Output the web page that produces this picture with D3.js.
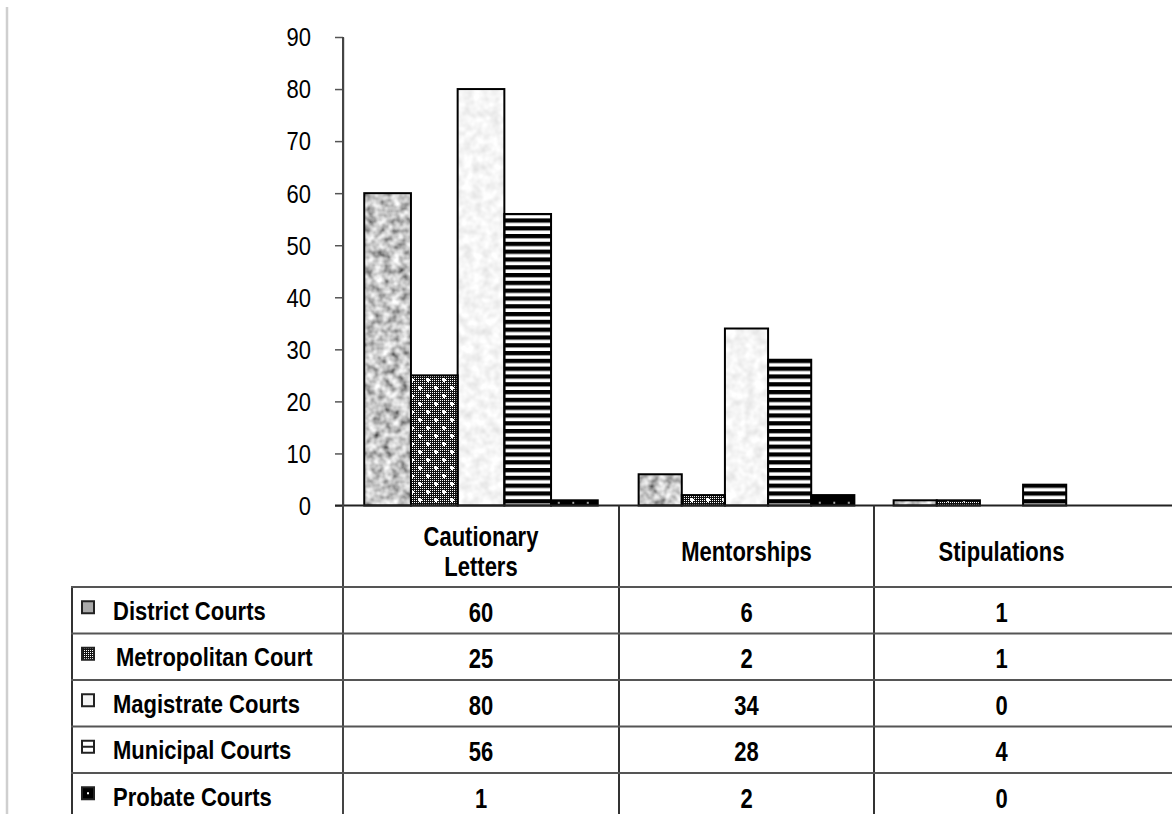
<!DOCTYPE html>
<html>
<head>
<meta charset="utf-8">
<script src="https://cdn.jsdelivr.net/npm/d3@7"></script>
<style>
  html, body { margin: 0; padding: 0; background: #fff; }
  svg { display: block; }
  text { font-family: "Liberation Sans", Arial, sans-serif; fill: #000; }
</style>
</head>
<body>
<svg id="chart" width="1172" height="814"></svg>
<script>
// Disciplinary outcomes by court type
const categories = ["Cautionary Letters", "Mentorships", "Stipulations"];
const categoryLines = [["Cautionary", "Letters"], ["Mentorships"], ["Stipulations"]];
const series = ["District Courts", "Metropolitan Court", "Magistrate Courts", "Municipal Courts", "Probate Courts"];
const districtCourts = [60, 6, 1];
const metropolitanCourt = [25, 2, 1];
const magistrateCourts = [80, 34, 0];
const municipalCourts = [56, 28, 4];
const probateCourts = [1, 2, 0];
const seriesValues = [districtCourts, metropolitanCourt, magistrateCourts, municipalCourts, probateCourts];
const yTicks = [0, 10, 20, 30, 40, 50, 60, 70, 80, 90];

const svg = d3.select("#chart");
const defs = svg.append("defs");

// ---- fills ----
function mottle(id, lo, hi, freq, seed, gain) {
  const f = defs.append("filter").attr("id", id)
    .attr("x", "-5%").attr("y", "-5%").attr("width", "110%").attr("height", "110%");
  f.append("feTurbulence").attr("type", "fractalNoise").attr("baseFrequency", freq)
    .attr("numOctaves", 2).attr("seed", seed).attr("result", "noise");
  const mid = (lo + hi) / 2, k = (hi - lo) * gain, b = mid - k * 0.5;
  f.append("feColorMatrix").attr("in", "noise").attr("type", "matrix")
    .attr("values", `${k} 0 0 0 ${b}  ${k} 0 0 0 ${b}  ${k} 0 0 0 ${b}  0 0 0 0 1`)
    .attr("result", "gray");
  f.append("feComposite").attr("in", "gray").attr("in2", "SourceGraphic").attr("operator", "in");
}
mottle("mottleDark", 0.30, 0.84, 0.12, 7, 2.5);
mottle("mottleLight", 0.84, 0.99, 0.11, 11, 2.6);

// fine dark dither
const dither = defs.append("pattern").attr("id", "dither").attr("patternUnits", "userSpaceOnUse")
  .attr("width", 2).attr("height", 2);
dither.append("rect").attr("width", 2).attr("height", 2).attr("fill", "#111");
dither.append("rect").attr("width", 1).attr("height", 1).attr("fill", "#fff");

// dither with white dots
const dots = defs.append("pattern").attr("id", "dotted").attr("patternUnits", "userSpaceOnUse")
  .attr("width", 16).attr("height", 16);
dots.append("rect").attr("width", 16).attr("height", 16).attr("fill", "url(#dither)");
[[4, 4], [12, 12]].forEach(([cx, cy]) => {
  dots.append("rect").attr("x", cx - 1).attr("y", cy - 2).attr("width", 2).attr("height", 4).attr("fill", "#fff");
  dots.append("rect").attr("x", cx - 2).attr("y", cy - 1).attr("width", 4).attr("height", 2).attr("fill", "#fff");
});

// horizontal stripes
const stripes = defs.append("pattern").attr("id", "stripes").attr("patternUnits", "userSpaceOnUse")
  .attr("width", 8).attr("height", 7.8);
stripes.append("rect").attr("width", 8).attr("height", 7.8).attr("fill", "#fff");
stripes.append("rect").attr("width", 8).attr("height", 4.3).attr("fill", "#000");

// black with sparse white dots
const blackDots = defs.append("pattern").attr("id", "blackDots").attr("patternUnits", "userSpaceOnUse")
  .attr("width", 14.5).attr("height", 14.5);
blackDots.append("rect").attr("width", 14.5).attr("height", 14.5).attr("fill", "#000");
blackDots.append("rect").attr("x", 7).attr("y", 9).attr("width", 1.6).attr("height", 1.6).attr("fill", "#fff");

const seriesStyle = [
  { fill: "#999", filter: "url(#mottleDark)" },
  { fill: "url(#dotted)" },
  { fill: "#eee", filter: "url(#mottleLight)" },
  { fill: "url(#stripes)" },
  { fill: "url(#blackDots)" }
];

// ---- scales ----
const y = d3.scaleLinear().domain([0, 90]).range([505.5, 37]);
const xCat = d3.scaleLinear().domain([0, 1, 2, 3]).range([343, 619, 874, 1129]);
const inner = d3.scaleBand().domain(series).range([0.077, 0.923]);
const rowY = d3.scaleBand().domain(series).range([587, 587 + 46.5 * series.length]);

function label(g, x, yy, txt, o = {}) {
  const sx = o.sx || 1, sy = o.sy || 1.15;
  return g.append("text")
    .attr("transform", `translate(${x},${yy}) scale(${sx},${sy})`)
    .attr("dy", "0.36em")
    .attr("text-anchor", o.anchor || "middle")
    .attr("font-size", o.size || 22)
    .attr("font-weight", o.weight || "bold")
    .text(txt);
}

// left frame line
svg.append("line").attr("x1", 7).attr("x2", 7).attr("y1", 7).attr("y2", 814)
  .attr("stroke", "#cfcfcf").attr("stroke-width", 2.5);

// ---- bars ----
const bars = [];
categories.forEach((c, ci) => {
  series.forEach((s, si) => {
    const v = seriesValues[si][ci];
    const x0 = xCat(ci + inner(s));
    const x1 = xCat(ci + inner(s) + inner.bandwidth());
    bars.push({ ci, si, v, x0, x1 });
  });
});
const barG = svg.append("g");
bars.filter(d => d.v > 0).forEach(d => {
  const st = seriesStyle[d.si];
  const r = barG.append("rect")
    .attr("x", d.x0).attr("y", y(d.v))
    .attr("width", d.x1 - d.x0).attr("height", y(0) - y(d.v))
    .attr("fill", st.fill);
  if (st.filter) r.attr("filter", st.filter);
});
barG.selectAll("rect.outline").data(bars.filter(d => d.v > 0)).join("rect")
  .attr("class", "outline")
  .attr("x", d => d.x0).attr("y", d => y(d.v))
  .attr("width", d => d.x1 - d.x0).attr("height", d => y(0) - y(d.v))
  .attr("fill", "none").attr("stroke", "#000").attr("stroke-width", 2);

// ---- y axis ----
const yAxis = svg.append("g").attr("transform", "translate(343,0)")
  .call(d3.axisLeft(y).tickValues(yTicks).tickSize(8).tickSizeOuter(0).tickFormat(""));
yAxis.select(".domain").attr("stroke", "#666").attr("stroke-width", 1.5);
yAxis.selectAll(".tick line").attr("stroke", "#555").attr("stroke-width", 1.5);
yTicks.forEach(t => label(svg, 311, y(t), String(t), { anchor: "end", weight: "normal", size: 22, sx: 1.0, sy: 1.18 }));

// ---- data table ----
const tbl = svg.append("g");
const lineColor = "#333";
// baseline of plot / top of header
tbl.append("line").attr("x1", 335).attr("x2", 1172).attr("y1", y(0)).attr("y2", y(0))
  .attr("stroke", "#222").attr("stroke-width", 2);
// column separators
[0, 1, 2].forEach(i => {
  tbl.append("line").attr("x1", xCat(i)).attr("x2", xCat(i)).attr("y1", i === 0 ? y(90) : y(0)).attr("y2", 814)
    .attr("stroke", i === 0 ? "#444" : lineColor).attr("stroke-width", 2);
});
// left border
tbl.append("line").attr("x1", 72).attr("x2", 72).attr("y1", rowY(series[0])).attr("y2", 814)
  .attr("stroke", lineColor).attr("stroke-width", 2);
// row lines
series.forEach(s => {
  tbl.append("line").attr("x1", 71).attr("x2", 1172).attr("y1", rowY(s)).attr("y2", rowY(s))
    .attr("stroke", "#555").attr("stroke-width", 2);
});

// column headers
categoryLines.forEach((lines, ci) => {
  const cx = (xCat(ci) + xCat(ci + 1)) / 2;
  const mid = 551;
  lines.forEach((ln, li) => {
    label(tbl, cx, mid + (li - (lines.length - 1) / 2) * 30, ln, { sy: 1.22 });
  });
});

// rows: legend key + values
series.forEach((s, si) => {
  const cy = rowY(s) + rowY.bandwidth() / 2;
  const key = tbl.append("rect").attr("x", 82).attr("y", cy - 9).attr("width", 12).attr("height", 12)
    .attr("stroke", "#222").attr("stroke-width", 2);
  if (si === 0) key.attr("fill", "#aaa");
  else if (si === 1) key.attr("fill", "url(#dither)");
  else if (si === 2) key.attr("fill", "#f4f4f4");
  else if (si === 3) {
    key.attr("fill", "#fff");
    tbl.append("line").attr("x1", 82).attr("x2", 94).attr("y1", cy - 3).attr("y2", cy - 3)
      .attr("stroke", "#222").attr("stroke-width", 2);
  } else {
    key.attr("fill", "#000");
    tbl.append("rect").attr("x", 87).attr("y", cy - 4).attr("width", 2).attr("height", 2).attr("fill", "#fff");
  }
  label(tbl, si === 1 ? 116 : 113, cy, s, { anchor: "start", sy: 1.18 });
  categories.forEach((c, ci) => {
    const cx = (xCat(ci) + xCat(ci + 1)) / 2;
    label(tbl, cx, cy + 2, String(seriesValues[si][ci]), { sy: 1.22 });
  });
});
</script>
</body>
</html>
